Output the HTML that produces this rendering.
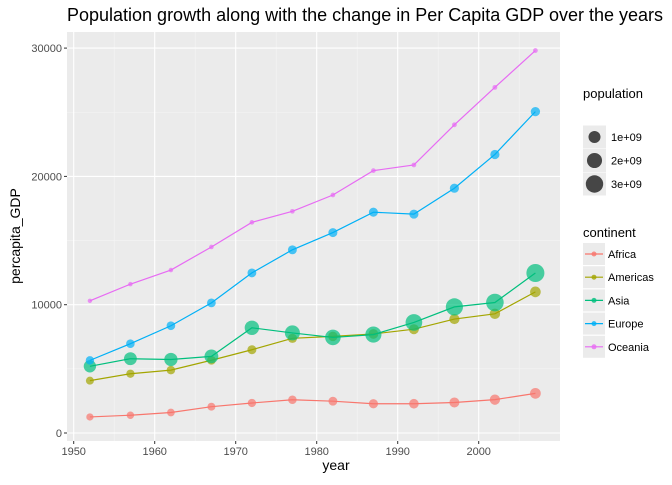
<!DOCTYPE html>
<html><head><meta charset="utf-8"><style>
body{margin:0;background:#fff;font-family:"Liberation Sans",sans-serif}
</style></head><body>
<svg width="672" height="480" xmlns="http://www.w3.org/2000/svg" font-family="Liberation Sans, sans-serif">
<text x="365" y="21" text-anchor="middle" font-size="18" fill="#000">Population growth along with the change in Per Capita GDP over the years</text>
<rect x="67" y="32" width="493" height="409" fill="#ebebeb"/>
<g id="grid"></g><g id="series"></g><g id="axes"></g><g id="legend"></g>
<text x="336" y="470" text-anchor="middle" font-size="14">year</text>
<text transform="translate(20,236) rotate(-90)" text-anchor="middle" font-size="14">percapita_GDP</text>
</svg>
<script>
const years=[1952,1957,1962,1967,1972,1977,1982,1987,1992,1997,2002,2007];
const continents=["Africa","Americas","Asia","Europe","Oceania"];
const colors=["#F8766D","#A3A500","#00BF7D","#00B0F6","#E76BF3"];
const gdpAfrica=[1250,1385,1600,2050,2340,2590,2480,2280,2280,2380,2600,3090];
const gdpAmericas=[4080,4620,4900,5670,6490,7380,7530,7720,8090,8880,9290,11000];
const gdpAsia=[5200,5790,5730,5970,8200,7800,7450,7670,8620,9830,10170,12470];
const gdpEurope=[5660,6960,8360,10140,12480,14280,15620,17210,17060,19080,21710,25050];
const gdpOceania=[10300,11600,12700,14500,16420,17280,18550,20450,20890,24020,26940,29810];
const popAfrica=[237e6,265e6,300e6,340e6,390e6,440e6,500e6,570e6,660e6,740e6,830e6,930e6];
const popAmericas=[345e6,390e6,433e6,480e6,525e6,574e6,620e6,682e6,746e6,797e6,850e6,899e6];
const popAsia=[1395e6,1564e6,1696e6,1906e6,2150e6,2385e6,2610e6,2870e6,3133e6,3383e6,3601e6,3812e6];
const popEurope=[418e6,438e6,461e6,481e6,500e6,514e6,525e6,536e6,548e6,562e6,572e6,586e6];
const popOceania=[10.7e6,12e6,13.5e6,14.9e6,16.9e6,18.1e6,19.3e6,20.9e6,22.4e6,24.2e6,25.4e6,24.5e6];
const xTicks=[1950,1960,1970,1980,1990,2000];
const yTicks=[0,10000,20000,30000];
const sizeBreaks=[1e9,2e9,3e9];
const sizeLabels=["1e+09","2e+09","3e+09"];
const gdps=[gdpAfrica,gdpAmericas,gdpAsia,gdpEurope,gdpOceania];
const pops=[popAfrica,popAmericas,popAsia,popEurope,popOceania];
const NS="http://www.w3.org/2000/svg";
const X=v=>73.7+(v-1950)*8.1, Y=v=>433-v*0.01283;
const R=p=>2.2+6.8*(Math.sqrt(p)-Math.sqrt(1e7))/(Math.sqrt(3.8e9)-Math.sqrt(1e7));
function mk(t,a,p){const e=document.createElementNS(NS,t);for(const k in a)e.setAttribute(k,a[k]);p.appendChild(e);return e;}
const g=document.getElementById('grid'),s=document.getElementById('series'),ax=document.getElementById('axes'),lg=document.getElementById('legend');
for(let v=1955;v<=2005;v+=10){const l=mk('line',{x1:X(v),x2:X(v),y1:32,y2:441,stroke:'#f5f5f5','stroke-width':0.6},g);}
for(let v=5000;v<=25000;v+=10000){const l=mk('line',{x1:67,x2:560,y1:Y(v),y2:Y(v),stroke:'#f5f5f5','stroke-width':0.6},g);}
xTicks.forEach(v=>{const l=mk('line',{x1:X(v),x2:X(v),y1:32,y2:441,stroke:'#fff','stroke-width':1.1},g);
const t=mk('line',{x1:X(v),x2:X(v),y1:441,y2:444,stroke:'#333'},ax);
const tx=mk('text',{x:X(v),y:455,'text-anchor':'middle','font-size':11,fill:'#4d4d4d'},ax);tx.textContent=v;});
yTicks.forEach(v=>{const l=mk('line',{x1:67,x2:560,y1:Y(v),y2:Y(v),stroke:'#fff','stroke-width':1.1},g);
const t=mk('line',{x1:64,x2:67,y1:Y(v),y2:Y(v),stroke:'#333'},ax);
const tx=mk('text',{x:62,y:Y(v)+4,'text-anchor':'end','font-size':11,fill:'#4d4d4d'},ax);tx.textContent=v;});
continents.forEach((c,i)=>{const gr=mk('g',{},s);
const pl=mk('polyline',{points:years.map((y,j)=>X(y)+','+Y(gdps[i][j])).join(' '),fill:'none',stroke:colors[i],'stroke-width':1.2},gr);
years.forEach((y,j)=>{const p=mk('circle',{cx:X(y),cy:Y(gdps[i][j]),r:R(pops[i][j]),fill:colors[i],'fill-opacity':0.7},gr);});});
let t=mk('text',{x:583,y:98,'font-size':13},lg);t.textContent='population';
sizeBreaks.forEach((b,i)=>{const cy=137+i*23.5;const r=mk('rect',{x:583,y:cy-11.5,width:23,height:23,fill:'#ebebeb'},lg);
const c=mk('circle',{cx:594.5,cy:cy,r:R(b)+0.5,fill:'#000','fill-opacity':0.7},lg);
const tx=mk('text',{x:611,y:cy+4,'font-size':11},lg);tx.textContent=sizeLabels[i];});
t=mk('text',{x:583,y:237,'font-size':13},lg);t.textContent='continent';
continents.forEach((c,i)=>{const cy=254+i*23.2;const r=mk('rect',{x:583,y:cy-11,width:22,height:22,fill:'#ebebeb'},lg);
mk('line',{x1:585,x2:603,y1:cy,y2:cy,stroke:colors[i],'stroke-width':1.2},lg);
mk('circle',{cx:594,cy:cy,r:2.5,fill:colors[i],'fill-opacity':0.8},lg);
const tx=mk('text',{x:608,y:cy+4,'font-size':11},lg);tx.textContent=c;});
</script>
</body></html>
